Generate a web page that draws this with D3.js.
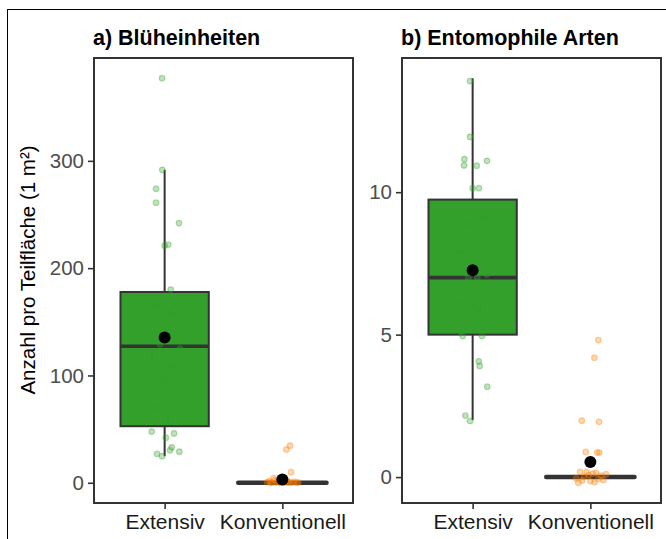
<!DOCTYPE html>
<html>
<head>
<meta charset="utf-8">
<script src="https://cdn.jsdelivr.net/npm/d3@7/dist/d3.min.js"></script>
<style>
  html, body { margin: 0; padding: 0; background: #fff; }
  svg { display: block; }
  text { font-family: "Liberation Sans", Arial, Helvetica, sans-serif; }
</style>
</head>
<body>
<svg id="chart" width="666" height="539"></svg>
<script>
// ---------- DATA ----------
const categories = ["Extensiv", "Konventionell"];
const panelTitles = ["a) Blüheinheiten", "b) Entomophile Arten"];
const yTitle = "Anzahl pro Teilfläche (1 m²)";
const yTicksA = [0, 100, 200, 300];
const yTicksB = [0, 5, 10];

// box statistics per category: [lower whisker, q1, median, q3, upper whisker, mean]
const boxA = [[24.8, 52.7, 127.2, 177.8, 291.6, 135.3], [0, 0, 0, 0, 0, 3]];
const boxB = [[2.0, 5.0, 7.0, 9.74, 14.0, 7.26], [0, 0, 0, 0, 0, 0.53]];

// jittered observations: [jitter offset (category units), value]
const pointsAExtensiv = [
  [-0.022, 377], [-0.02, 291.6], [-0.073, 274], [-0.073, 261], [0.122, 242], [0.031, 222], [0.0, 221], [0.052, 180],
  [0.1, 165], [-0.08, 165], [0.05, 158], [-0.12, 150], [0.02, 140], [0.09, 135], [-0.04, 129], [0.13, 125],
  [-0.1, 118], [0.06, 108], [-0.02, 95], [0.11, 85], [-0.06, 70], [0.03, 58],
  [-0.11, 47.7], [0.08, 46], [0.01, 42], [0.06, 33], [0.046, 30.3], [0.125, 29], [-0.065, 27], [-0.022, 24.8]
];
const pointsAKonventionell = [
  [0.065, 34.6], [0.034, 31], [0.074, 9.9], [-0.076, 4.3],
  [-0.13, 0.5], [-0.11, 1.5], [-0.09, 0], [-0.06, 2.5], [-0.04, 0.8], [-0.02, 0], [0.0, 1.2], [0.02, 0],
  [0.04, 2], [0.06, 0.5], [0.08, 0], [0.1, 1], [0.12, 0], [0.135, 0.3], [-0.1, 0.2], [0.05, 0.1], [-0.05, 0.4]
];
const pointsBExtensiv = [
  [-0.022, 13.9], [-0.022, 11.94], [-0.07, 11.16], [-0.073, 10.94], [0.035, 10.93], [0.122, 11.1], [0, 10.14], [0.054, 10.14],
  [0.1, 9.1], [-0.05, 8.9], [0.08, 8.1], [-0.11, 7.9], [-0.036, 7.0], [0.04, 7.0], [0.12, 7.11], [-0.09, 6.1],
  [0.06, 5.9], [0.0, 6.05], [-0.1, 5.1],
  [-0.084, 4.95], [0.08, 4.95], [0.052, 4.06], [0.06, 3.9], [0.124, 3.17], [-0.062, 2.16], [-0.022, 1.97]
];
const pointsBKonventionell = [
  [0.068, 4.81], [0.034, 4.19], [-0.073, 1.98], [0.074, 1.94], [-0.039, 0.88], [0.059, 0.86], [0.076, 0.86],
  [-0.087, 0.18], [-0.031, 0.18], [0.048, 0.15], [0.133, 0.1], [-0.102, -0.2], [0, -0.14], [0.068, -0.06],
  [-0.054, 0.01], [0.09, 0.05], [-0.12, -0.05], [0.02, 0.12], [0.11, -0.1], [-0.07, -0.12], [0.035, -0.18], [-0.015, 0.07]
];

// ---------- STYLE / LAYOUT ----------
const colors = ["#33a02c", "#ff7f00"];
const dark = "#333333";
const panelsLayout = [
  { left: 94, right: 353, top: 58, bottom: 503 },
  { left: 402, right: 661, top: 58, bottom: 503 }
];

const svg = d3.select("#chart");

// outer frame
svg.append("rect").attr("x", 7.5).attr("y", 9.5).attr("width", 700).attr("height", 700)
  .attr("fill", "none").attr("stroke", "#000").attr("stroke-width", 1);

const panels = [
  { title: panelTitles[0], ticks: yTicksA, box: boxA, pts: [pointsAExtensiv, pointsAKonventionell] },
  { title: panelTitles[1], ticks: yTicksB, box: boxB, pts: [pointsBExtensiv, pointsBKonventionell] }
];

panels.forEach((p, pi) => {
  const L = panelsLayout[pi];
  const allVals = [].concat(...p.pts.map(s => s.map(d => d[1])), ...p.box.map(b => b.slice(0, 5)));
  const [mn, mx] = d3.extent(allVals);
  const pad = (mx - mn) * 0.05;
  const y = d3.scaleLinear().domain([mn - pad, mx + pad]).range([L.bottom, L.top]);
  const x = d3.scaleLinear().domain([0.4, 2.6]).range([L.left, L.right]);
  const g = svg.append("g");

  // title
  g.append("text").attr("x", L.left - 1).attr("y", 45)
    .attr("font-size", 21.5).attr("font-weight", "bold").attr("fill", "#000").text(p.title);

  // y axis
  const yAxis = d3.axisLeft(y).tickValues(p.ticks).tickSize(6).tickPadding(4).tickFormat(d3.format("d"));
  const ya = g.append("g").attr("transform", `translate(${L.left},0)`).call(yAxis);
  ya.select(".domain").remove();
  ya.selectAll(".tick line").attr("stroke", dark).attr("stroke-width", 1.6);
  ya.selectAll(".tick text").attr("font-size", 20.5).attr("fill", "#4d4d4d")
    .attr("font-family", "'Liberation Sans', Arial, sans-serif");

  // x axis
  const xAxis = d3.axisBottom(x).tickValues([1, 2]).tickSize(6).tickPadding(5)
    .tickFormat(d => categories[d - 1]);
  const xa = g.append("g").attr("transform", `translate(0,${L.bottom})`).call(xAxis);
  xa.select(".domain").remove();
  xa.selectAll(".tick line").attr("stroke", dark).attr("stroke-width", 1.6);
  xa.selectAll(".tick text").attr("font-size", 21).attr("fill", "#1a1a1a")
    .attr("font-family", "'Liberation Sans', Arial, sans-serif");

  const bw = 0.75;
  p.box.forEach((b, ci) => {
    const cx = x(ci + 1);
    const [lo, q1, med, q3, hi, mean] = b;
    // whiskers
    g.append("line").attr("x1", cx).attr("x2", cx).attr("y1", y(q3)).attr("y2", y(hi))
      .attr("stroke", dark).attr("stroke-width", 2);
    g.append("line").attr("x1", cx).attr("x2", cx).attr("y1", y(q1)).attr("y2", y(lo))
      .attr("stroke", dark).attr("stroke-width", 2);
    // box
    g.append("rect").attr("x", x(ci + 1 - bw / 2)).attr("width", x(ci + 1 + bw / 2) - x(ci + 1 - bw / 2))
      .attr("y", y(q3)).attr("height", Math.max(0, y(q1) - y(q3)))
      .attr("fill", colors[ci]).attr("stroke", dark).attr("stroke-width", 2);
    // median
    g.append("line").attr("x1", x(ci + 1 - bw / 2)).attr("x2", x(ci + 1 + bw / 2))
      .attr("y1", y(med)).attr("y2", y(med))
      .attr("stroke", dark).attr("stroke-width", q1 === q3 ? 4.5 : 3.6)
      .attr("stroke-linecap", q1 === q3 ? "round" : "butt");
  });

  // jittered points
  p.pts.forEach((s, ci) => {
    g.selectAll(null).data(s).enter().append("circle")
      .attr("cx", d => x(ci + 1 + d[0])).attr("cy", d => y(d[1])).attr("r", 2.8)
      .attr("fill", colors[ci]).attr("fill-opacity", 0.3)
      .attr("stroke", colors[ci]).attr("stroke-opacity", 0.35).attr("stroke-width", 1.2);
  });

  // means
  p.box.forEach((b, ci) => {
    g.append("circle").attr("cx", x(ci + 1)).attr("cy", y(b[5])).attr("r", 6).attr("fill", "#000");
  });

  // panel border
  g.append("rect").attr("x", L.left).attr("y", L.top).attr("width", L.right - L.left).attr("height", L.bottom - L.top)
    .attr("fill", "none").attr("stroke", dark).attr("stroke-width", 2);
});

// y title
svg.append("text").attr("transform", "translate(35,270) rotate(-90)")
  .attr("text-anchor", "middle").attr("font-size", 20.5).attr("fill", "#000").text(yTitle);
</script>
</body>
</html>
